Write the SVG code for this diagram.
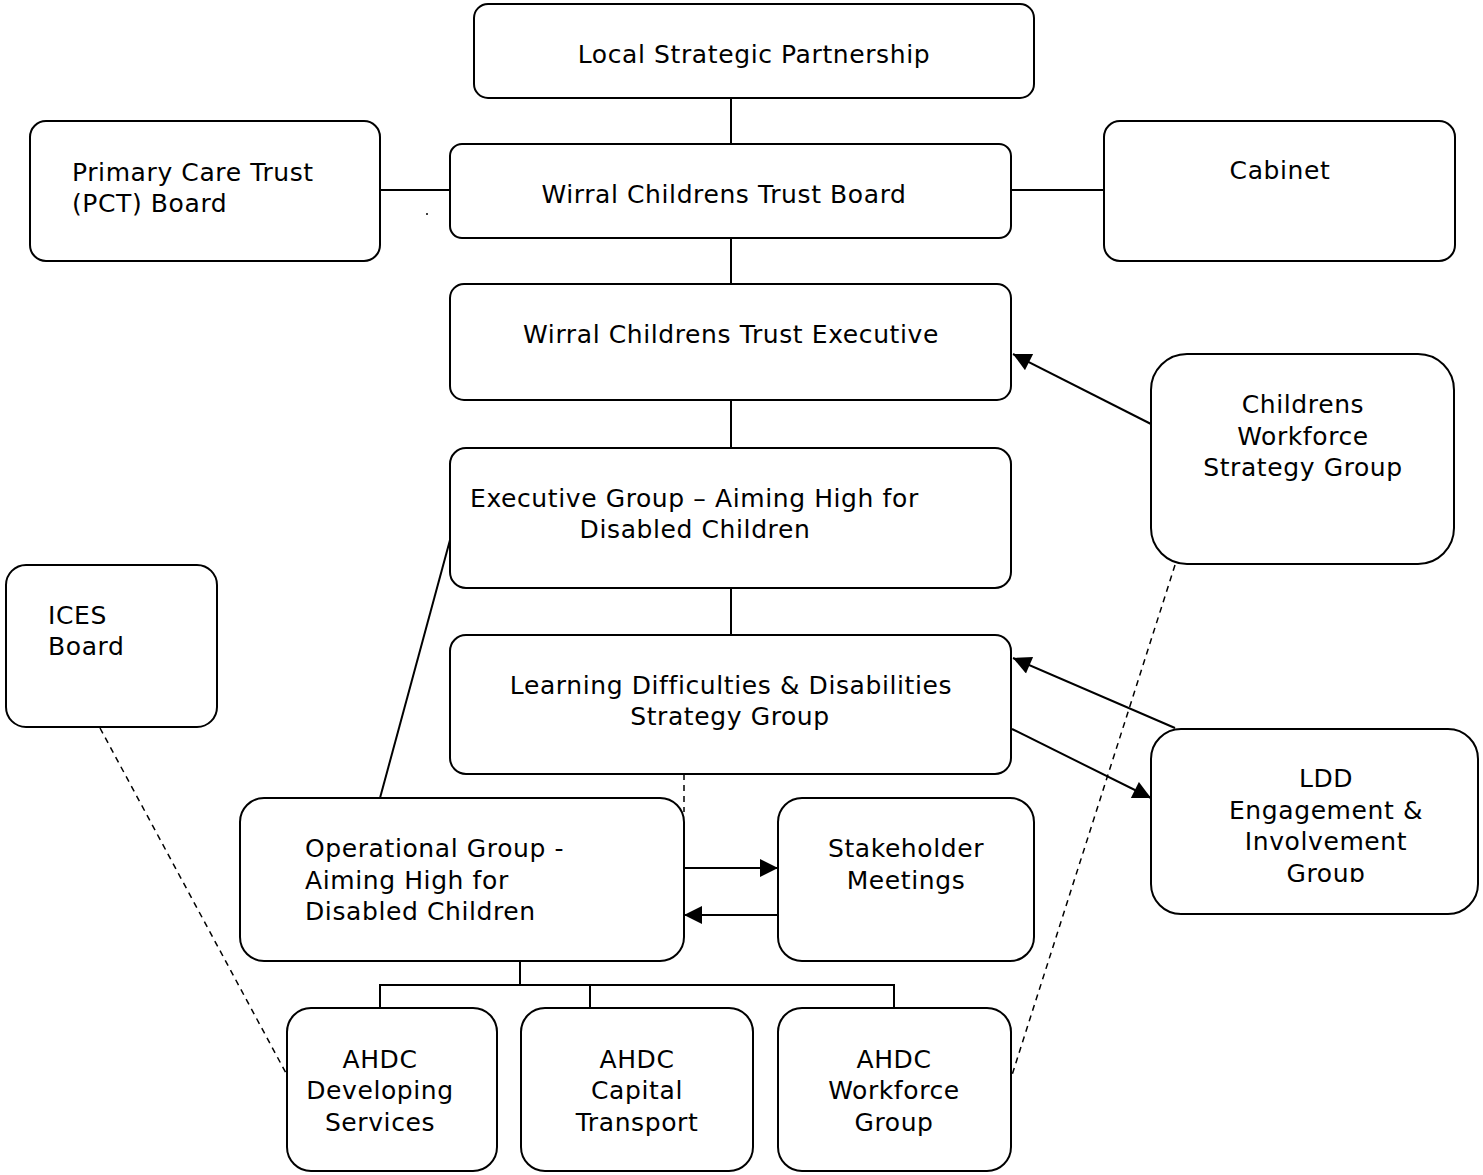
<svg xmlns="http://www.w3.org/2000/svg" width="1483" height="1175" viewBox="0 0 1483 1175">
<defs>
<style>
.box{fill:#fff;stroke:#000;stroke-width:2}
text{font-family:"DejaVu Sans",Verdana,sans-serif;font-size:25px;letter-spacing:0.6px;fill:#000}
.c{text-anchor:middle}
.ln{stroke:#000;stroke-width:2;fill:none}
.dash{stroke:#000;stroke-width:1.5;fill:none;stroke-dasharray:6,5}
</style>
<marker id="ahb" viewBox="0 0 10 10" refX="10" refY="5" markerWidth="20" markerHeight="18" markerUnits="userSpaceOnUse" orient="auto"><path d="M0,0 L10,5 L0,10 z" fill="#000"/></marker>
<clipPath id="lddclip"><rect x="1151" y="729" width="328" height="153"/></clipPath>
</defs>
<rect width="1483" height="1175" fill="#fff"/>
<g id="connectors">
<line class="ln" x1="731" y1="98" x2="731" y2="144"/>
<line class="ln" x1="380" y1="190" x2="450" y2="190"/>
<line class="ln" x1="1011" y1="190" x2="1104" y2="190"/>
<line class="ln" x1="731" y1="238" x2="731" y2="284"/>
<line class="ln" x1="731" y1="400" x2="731" y2="448"/>
<line class="ln" x1="731" y1="588" x2="731" y2="635"/>
<line class="ln" x1="1151" y1="424" x2="1013" y2="354" marker-end="url(#ahb)"/>
<line class="ln" x1="1175" y1="728" x2="1013" y2="658" marker-end="url(#ahb)"/>
<line class="ln" x1="1012" y1="729" x2="1151" y2="798" marker-end="url(#ahb)"/>
<line class="ln" x1="450" y1="540" x2="380" y2="798"/>
<line class="dash" x1="684" y1="774" x2="684" y2="812"/>
<line class="ln" x1="684" y1="868" x2="778" y2="868" marker-end="url(#ahb)"/>
<line class="ln" x1="778" y1="915" x2="684" y2="915" marker-end="url(#ahb)"/>
<line class="ln" x1="520" y1="961" x2="520" y2="985"/>
<polyline class="ln" points="380,1008 380,985 894,985 894,1008"/>
<line class="ln" x1="590" y1="985" x2="590" y2="1008"/>
<line class="dash" x1="100" y1="728" x2="287" y2="1075"/>
<line class="dash" x1="1175" y1="565" x2="1012" y2="1075"/>
<circle cx="427" cy="214" r="1" fill="#000"/>
</g>
<g id="lsp"><rect class="box" x="474" y="4" width="560" height="94" rx="14"/><text class="c" x="754" y="63">Local Strategic Partnership</text></g>
<g id="pct"><rect class="box" x="30" y="121" width="350" height="140" rx="16"/><text x="72" y="181">Primary Care Trust</text><text x="72" y="212">(PCT) Board</text></g>
<g id="wctb"><rect class="box" x="450" y="144" width="561" height="94" rx="12"/><text class="c" x="724" y="203">Wirral Childrens Trust Board</text></g>
<g id="cabinet"><rect class="box" x="1104" y="121" width="351" height="140" rx="16"/><text class="c" x="1280" y="179">Cabinet</text></g>
<g id="wcte"><rect class="box" x="450" y="284" width="561" height="116" rx="14"/><text class="c" x="731" y="343">Wirral Childrens Trust Executive</text></g>
<g id="cwsg"><rect class="box" x="1151" y="354" width="303" height="210" rx="36"/><text class="c" x="1303" y="413">Childrens</text><text class="c" x="1303" y="445">Workforce</text><text class="c" x="1303" y="476">Strategy Group</text></g>
<g id="eg"><rect class="box" x="450" y="448" width="561" height="140" rx="16"/><text x="470" y="507">Executive Group – Aiming High for</text><text class="c" x="695" y="538">Disabled Children</text></g>
<g id="ices"><rect class="box" x="6" y="565" width="211" height="162" rx="20"/><text x="48" y="624">ICES</text><text x="48" y="655">Board</text></g>
<g id="ldds"><rect class="box" x="450" y="635" width="561" height="139" rx="16"/><text class="c" x="731" y="694">Learning Difficulties &amp; Disabilities</text><text class="c" x="730" y="725">Strategy Group</text></g>
<g id="ldde"><rect class="box" x="1151" y="729" width="327" height="185" rx="30"/><g clip-path="url(#lddclip)"><text class="c" x="1326" y="787">LDD</text><text class="c" x="1326" y="819">Engagement &amp;</text><text class="c" x="1326" y="850">Involvement</text><text class="c" x="1326" y="882">Group</text></g></g>
<g id="opg"><rect class="box" x="240" y="798" width="444" height="163" rx="24"/><text x="305" y="857">Operational Group -</text><text x="305" y="889">Aiming High for</text><text x="305" y="920">Disabled Children</text></g>
<g id="stake"><rect class="box" x="778" y="798" width="256" height="163" rx="24"/><text class="c" x="906" y="857">Stakeholder</text><text class="c" x="906" y="889">Meetings</text></g>
<g id="ahdc-ds"><rect class="box" x="287" y="1008" width="210" height="163" rx="24"/><text class="c" x="380" y="1068">AHDC</text><text class="c" x="380" y="1099">Developing</text><text class="c" x="380" y="1131">Services</text></g>
<g id="ahdc-ct"><rect class="box" x="521" y="1008" width="232" height="163" rx="24"/><text class="c" x="637" y="1068">AHDC</text><text class="c" x="637" y="1099">Capital</text><text class="c" x="637" y="1131">Transport</text></g>
<g id="ahdc-wg"><rect class="box" x="778" y="1008" width="233" height="163" rx="24"/><text class="c" x="894" y="1068">AHDC</text><text class="c" x="894" y="1099">Workforce</text><text class="c" x="894" y="1131">Group</text></g>
</svg>
